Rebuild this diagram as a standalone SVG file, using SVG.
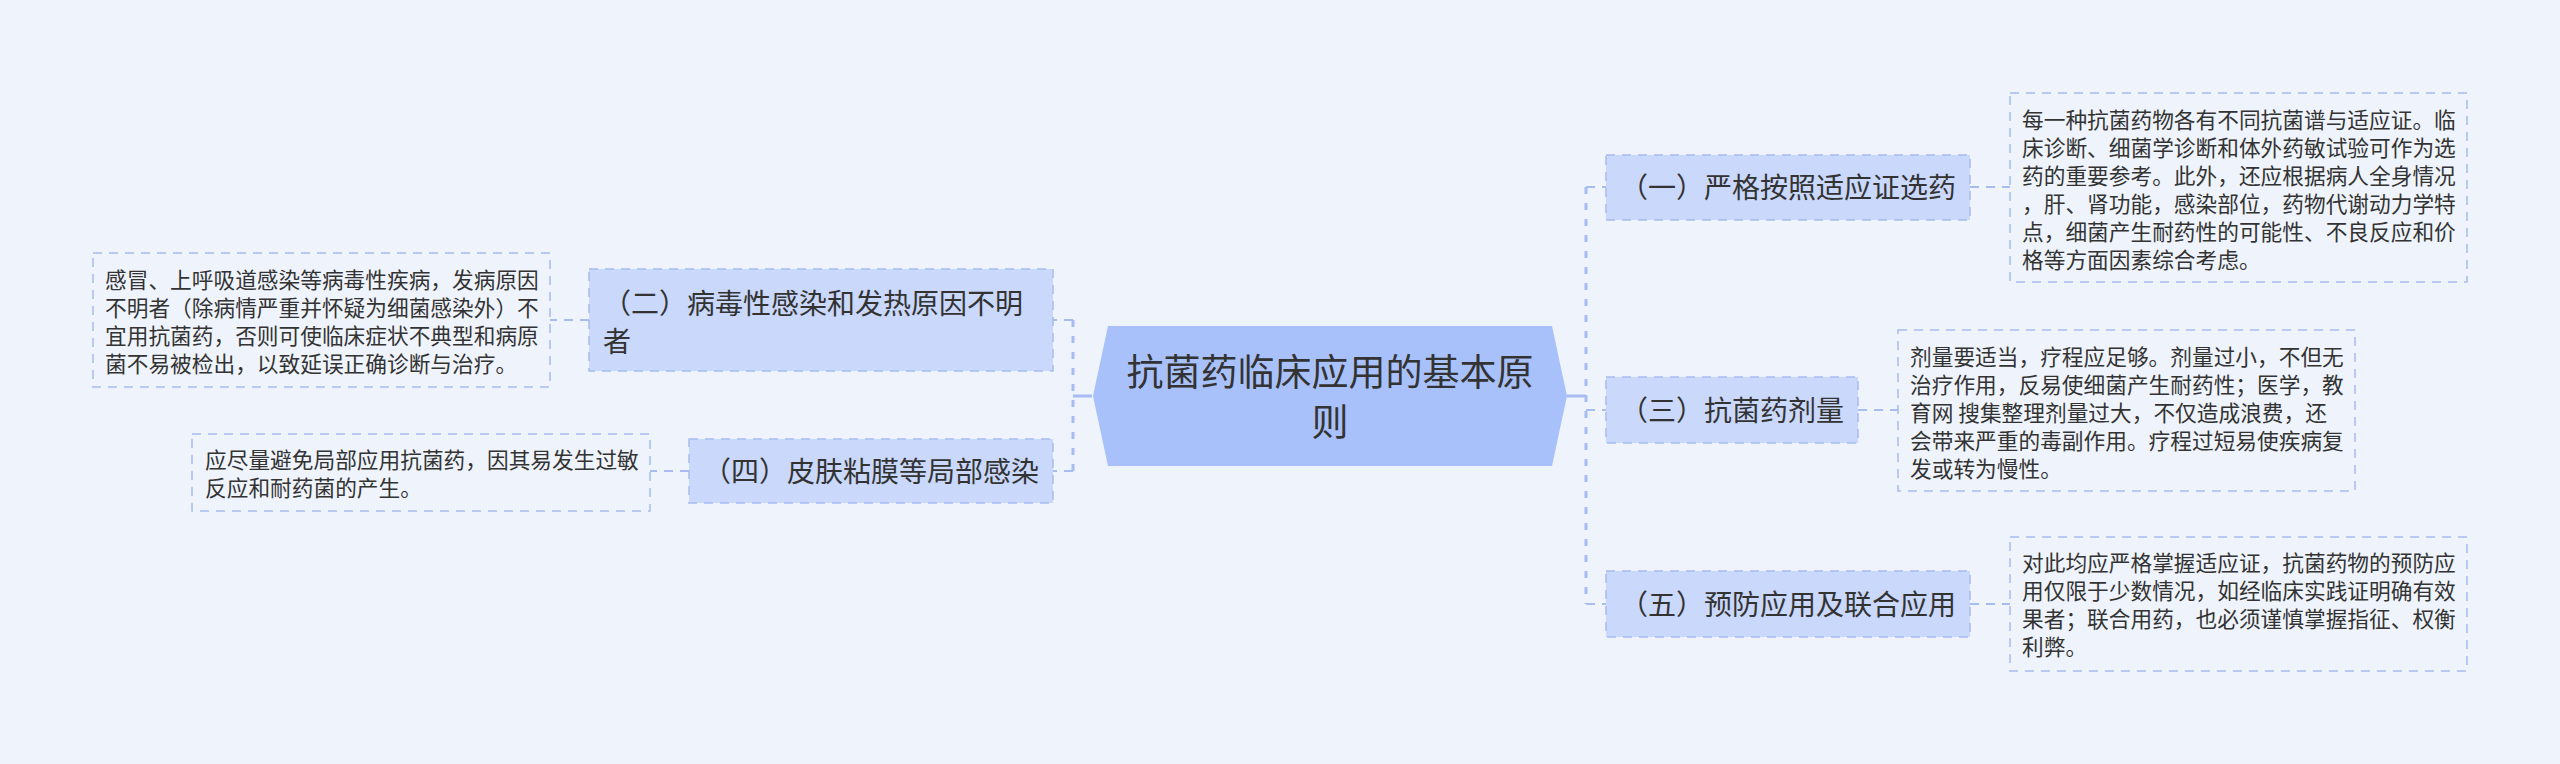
<svg xmlns="http://www.w3.org/2000/svg" width="2560" height="764" viewBox="0 0 2560 764">
<style>
  .bg { fill: #eef3fc; }
  text { font-family: "Noto Sans CJK SC", "Noto Sans", sans-serif; fill: #333333; }
  .root-shape { fill: #a9c1fa; }
  .root-text { font-size: 37px; text-anchor: middle; }
  .l1 { fill: #c9d8fb; stroke: #a7bcef; stroke-width: 1.5; stroke-dasharray: 9 7; }
  .l1-text { font-size: 28px; }
  .leaf { fill: #eff4fc; stroke: #a7bcef; stroke-width: 1.5; stroke-dasharray: 9 7; }
  .leaf-text { font-size: 21.7px; }
  .solid { fill: none; stroke: #a7bcf3; stroke-width: 3; }
  .trunk { fill: none; stroke: #a7bcf3; stroke-width: 3; stroke-dasharray: 7 9; }
  .link { fill: none; stroke: #a7bcef; stroke-width: 2; stroke-dasharray: 9 7; }
</style>
<rect class="bg" x="0" y="0" width="2560" height="764"/>

<g id="connectors">
  <path class="solid" d="M1567 396 H1586"/>
  <path class="trunk" d="M1586 187 V604"/>
  <path class="link" d="M1586 187 H1606"/>
  <path class="link" d="M1586 410 H1606"/>
  <path class="link" d="M1586 604 H1606"/>
  <path class="link" d="M1970 187 H2010"/>
  <path class="link" d="M1858 410 H1898"/>
  <path class="link" d="M1970 604 H2010"/>
  <path class="solid" d="M1092 396 H1073"/>
  <path class="trunk" d="M1073 320 V472"/>
  <path class="link" d="M1073 320 H1053"/>
  <path class="link" d="M1073 471 H1053"/>
  <path class="link" d="M589 320 H550"/>
  <path class="link" d="M689 471 H650"/>
</g>

<g id="root">
  <polygon class="root-shape" points="1108,326 1552,326 1567,396 1552,466 1108,466 1093,396"/>
  <text class="root-text" x="1330" y="386">抗菌药临床应用的基本原</text>
  <text class="root-text" x="1330" y="436">则</text>
</g>

<g id="n1">
  <rect class="l1" x="1606" y="155" width="364" height="65"/>
  <text class="l1-text" x="1620" y="198">（一）严格按照适应证选药</text>
</g>
<g id="n3">
  <rect class="l1" x="1606" y="377" width="252" height="66"/>
  <text class="l1-text" x="1620" y="421">（三）抗菌药剂量</text>
</g>
<g id="n5">
  <rect class="l1" x="1606" y="571" width="364" height="66"/>
  <text class="l1-text" x="1620" y="615">（五）预防应用及联合应用</text>
</g>
<g id="n2">
  <rect class="l1" x="589" y="269" width="464" height="102"/>
  <text class="l1-text" x="603" y="314">（二）病毒性感染和发热原因不明</text>
  <text class="l1-text" x="603" y="352">者</text>
</g>
<g id="n4">
  <rect class="l1" x="689" y="439" width="364" height="64"/>
  <text class="l1-text" x="703" y="482">（四）皮肤粘膜等局部感染</text>
</g>

<g id="leaf1">
  <rect class="leaf" x="2010" y="93" width="457" height="189"/>
  <text class="leaf-text" x="2022" y="128">每一种抗菌药物各有不同抗菌谱与适应证。临</text>
  <text class="leaf-text" x="2022" y="156">床诊断、细菌学诊断和体外药敏试验可作为选</text>
  <text class="leaf-text" x="2022" y="184">药的重要参考。此外，还应根据病人全身情况</text>
  <text class="leaf-text" x="2022" y="212">，肝、肾功能，感染部位，药物代谢动力学特</text>
  <text class="leaf-text" x="2022" y="240">点，细菌产生耐药性的可能性、不良反应和价</text>
  <text class="leaf-text" x="2022" y="268">格等方面因素综合考虑。</text>
</g>
<g id="leaf3">
  <rect class="leaf" x="1898" y="330" width="457" height="161"/>
  <text class="leaf-text" x="1910" y="365">剂量要适当，疗程应足够。剂量过小，不但无</text>
  <text class="leaf-text" x="1910" y="393">治疗作用，反易使细菌产生耐药性；医学，教</text>
  <text class="leaf-text" x="1910" y="421">育网 搜集整理剂量过大，不仅造成浪费，还</text>
  <text class="leaf-text" x="1910" y="449">会带来严重的毒副作用。疗程过短易使疾病复</text>
  <text class="leaf-text" x="1910" y="477">发或转为慢性。</text>
</g>
<g id="leaf5">
  <rect class="leaf" x="2010" y="537" width="457" height="134"/>
  <text class="leaf-text" x="2022" y="571">对此均应严格掌握适应证，抗菌药物的预防应</text>
  <text class="leaf-text" x="2022" y="599">用仅限于少数情况，如经临床实践证明确有效</text>
  <text class="leaf-text" x="2022" y="627">果者；联合用药，也必须谨慎掌握指征、权衡</text>
  <text class="leaf-text" x="2022" y="655">利弊。</text>
</g>
<g id="leaf2">
  <rect class="leaf" x="93" y="253" width="457" height="134"/>
  <text class="leaf-text" x="105" y="288">感冒、上呼吸道感染等病毒性疾病，发病原因</text>
  <text class="leaf-text" x="105" y="316">不明者（除病情严重并怀疑为细菌感染外）不</text>
  <text class="leaf-text" x="105" y="344">宜用抗菌药，否则可使临床症状不典型和病原</text>
  <text class="leaf-text" x="105" y="372">菌不易被检出，以致延误正确诊断与治疗。</text>
</g>
<g id="leaf4">
  <rect class="leaf" x="192" y="434" width="458" height="77"/>
  <text class="leaf-text" x="205" y="468">应尽量避免局部应用抗菌药，因其易发生过敏</text>
  <text class="leaf-text" x="205" y="496">反应和耐药菌的产生。</text>
</g>
</svg>
